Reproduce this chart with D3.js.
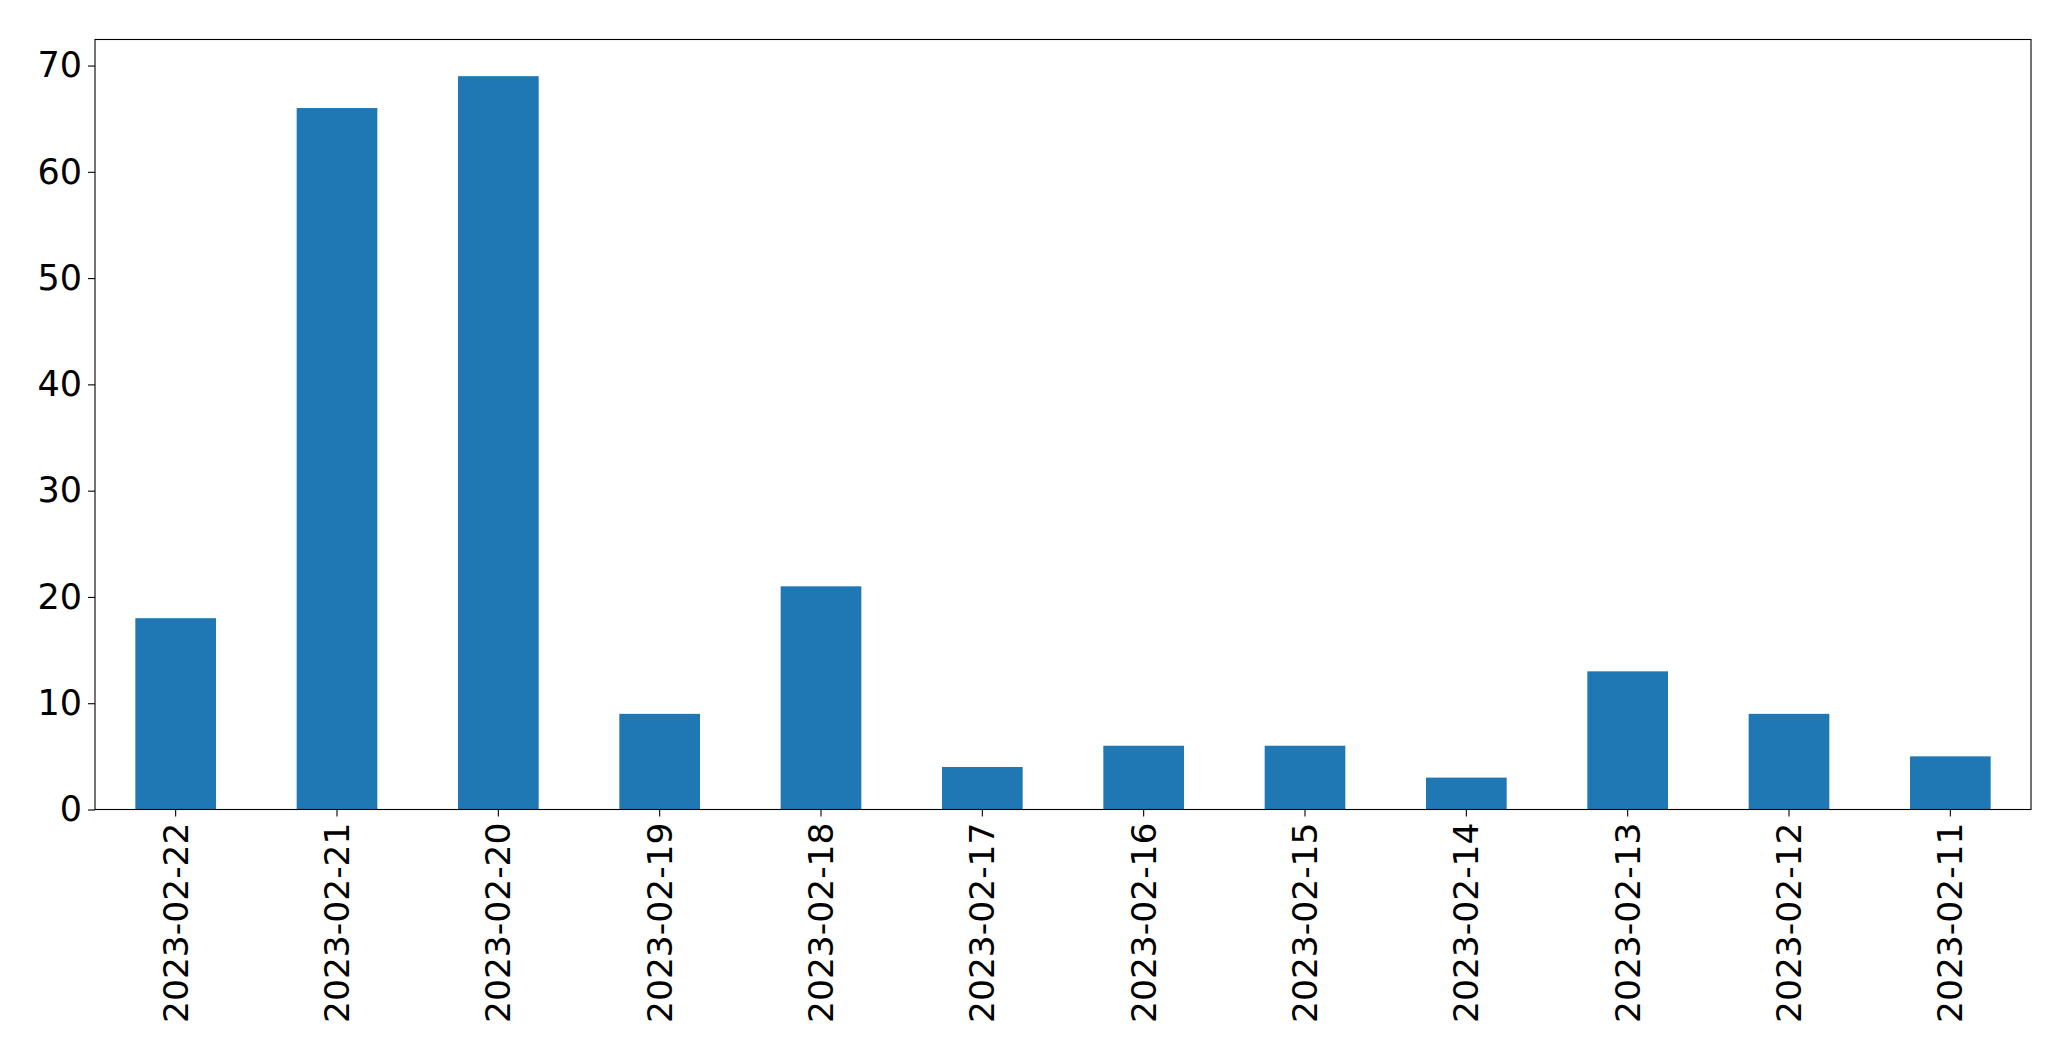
<!DOCTYPE html>
<html>
<head>
<meta charset="utf-8">
<script src="https://cdn.jsdelivr.net/npm/d3@7"></script>
<style>
  html, body { margin: 0; padding: 0; background: #fff; }
  svg { display: block; }
</style>
</head>
<body>
<svg id="chart" width="2071" height="1061"></svg>
<script>
const categories = ["2023-02-22","2023-02-21","2023-02-20","2023-02-19","2023-02-18","2023-02-17","2023-02-16","2023-02-15","2023-02-14","2023-02-13","2023-02-12","2023-02-11"];
const values = [18, 66, 69, 9, 21, 4, 6, 6, 3, 13, 9, 5];
const yTicks = [0, 10, 20, 30, 40, 50, 60, 70];

const W = 2071, H = 1061;
const margin = { left: 95, right: W - 2031, top: 39.5, bottom: H - 809.5 };
const svg = d3.select("#chart");
const innerW = W - margin.left - margin.right;
const innerH = H - margin.top - margin.bottom;

const x = d3.scaleBand().domain(categories).range([0, innerW]).paddingInner(0.5).paddingOuter(0.25);
const y = d3.scaleLinear().domain([0, d3.max(values) * 1.05]).range([innerH, 0]);

const g = svg.append("g").attr("transform", `translate(${margin.left},${margin.top})`);

g.selectAll("rect.bar").data(values).join("rect")
  .attr("class", "bar")
  .attr("x", (d, i) => x(categories[i]))
  .attr("y", d => y(d))
  .attr("width", x.bandwidth())
  .attr("height", d => innerH - y(d))
  .attr("fill", "#1f77b4");

const font = "'DejaVu Sans', sans-serif";

const yAxis = g.append("g").call(d3.axisLeft(y).tickValues(yTicks).tickFormat(d3.format("d")).tickSize(7).tickPadding(6));
yAxis.select(".domain").remove();
yAxis.selectAll("text").attr("font-family", font).attr("font-size", 35).attr("fill", "#000");
yAxis.selectAll("line").attr("stroke", "#000").attr("stroke-width", 1.1);

const xAxis = g.append("g").attr("transform", `translate(0,${innerH})`)
  .call(d3.axisBottom(x).tickSize(7).tickPadding(6));
xAxis.select(".domain").remove();
xAxis.selectAll("line").attr("stroke", "#000").attr("stroke-width", 1.1);
xAxis.selectAll("text")
  .attr("font-family", font).attr("font-size", 34.5).attr("fill", "#000")
  .attr("transform", "rotate(-90)")
  .attr("text-anchor", "end")
  .attr("x", -13)
  .attr("y", 0)
  .attr("dy", "0.35em");

g.append("rect").attr("x", 0).attr("y", 0).attr("width", innerW).attr("height", innerH)
  .attr("fill", "none").attr("stroke", "#000").attr("stroke-width", 1.1);
</script>
</body>
</html>
